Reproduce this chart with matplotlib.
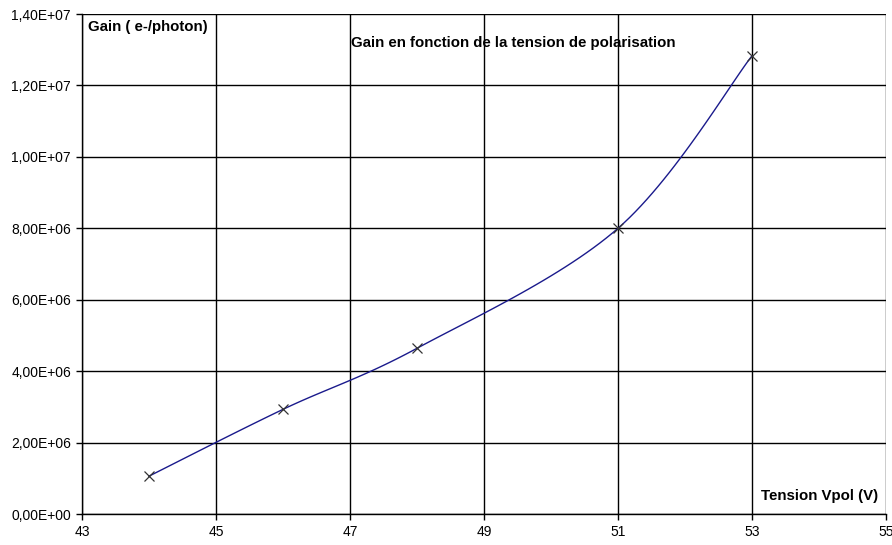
import numpy as np
import matplotlib
matplotlib.use("Agg")
import matplotlib.pyplot as plt
from matplotlib.ticker import FuncFormatter, MultipleLocator

plt.rcParams['font.family'] = ['Liberation Sans', 'DejaVu Sans']

voltage = [44, 46, 48, 51, 53]
gain = [1.06e6, 2.93e6, 4.64e6, 8.0e6, 1.283e7]
xticks = [43, 45, 47, 49, 51, 53, 55]

title = "Gain en fonction de la tension de polarisation"
ylabel = "Gain ( e-/photon)"
xlabel = "Tension Vpol (V)"


def smooth(xs, ys, n=30):
    # Catmull-Rom style smoothing similar to spreadsheet "smoothed line"
    xs = np.asarray(xs, float)
    ys = np.asarray(ys, float)
    px = np.concatenate([[xs[0]], xs, [xs[-1]]])
    py = np.concatenate([[ys[0]], ys, [ys[-1]]])
    ox, oy = [], []
    t = 1 / 6
    for i in range(1, len(px) - 2):
        p0 = np.array([px[i], py[i]])
        p3 = np.array([px[i + 1], py[i + 1]])
        c1 = p0 + t * (np.array([px[i + 1], py[i + 1]]) - np.array([px[i - 1], py[i - 1]]))
        c2 = p3 - t * (np.array([px[i + 2], py[i + 2]]) - np.array([px[i], py[i]]))
        s = np.linspace(0, 1, n)[:, None]
        b = (1 - s) ** 3 * p0 + 3 * (1 - s) ** 2 * s * c1 + 3 * (1 - s) * s ** 2 * c2 + s ** 3 * p3
        ox.extend(b[:, 0])
        oy.extend(b[:, 1])
    return np.array(ox), np.array(oy)


fig = plt.figure(figsize=(8.92, 5.45), dpi=100)
ax = fig.add_axes([82 / 892, 31 / 545, 804 / 892, 500 / 545])

sx, sy = smooth(voltage, gain)
ax.plot(sx, sy, color='#1a1a8c', lw=1.0, zorder=3)
ax.plot(voltage, gain, ls='none', marker='x', ms=7, mew=0.9, color='#333333', zorder=4)

ax.set_xlim(43, 55)
ax.set_ylim(0, 1.4e7)
ax.set_xticks(xticks)
ax.yaxis.set_major_locator(MultipleLocator(2e6))


def yfmt(v, pos):
    if v == 0:
        return "0,00E+00"
    e = int(np.floor(np.log10(abs(v))))
    m = v / 10 ** e
    return f"{m:.2f}".replace('.', ',') + f"E+{e:02d}"


ax.yaxis.set_major_formatter(FuncFormatter(yfmt))
ax.xaxis.set_major_formatter(FuncFormatter(lambda v, p: f"{int(round(v))}"))

ax.grid(True, color='#000000', lw=1.0)
ax.set_axisbelow(True)
for s in ['top', 'right']:
    ax.spines[s].set_visible(False)
for s in ['left', 'bottom']:
    ax.spines[s].set_color('#000000')
    ax.spines[s].set_linewidth(1.0)
ax.tick_params(direction='out', length=4, width=1, color='#000000',
               labelsize=10, labelcolor='#000000', pad=4)

fig.text(88 / 892, 1 - 27 / 545, ylabel, fontsize=10.8, fontweight='bold', va='center', ha='left')
fig.text(351 / 892, 1 - 43 / 545, title, fontsize=10.8, fontweight='bold', va='center', ha='left')
fig.text(878 / 892, 1 - 496 / 545, xlabel, fontsize=10.8, fontweight='bold', va='center', ha='right')

fig.savefig("out.png", dpi=100)
